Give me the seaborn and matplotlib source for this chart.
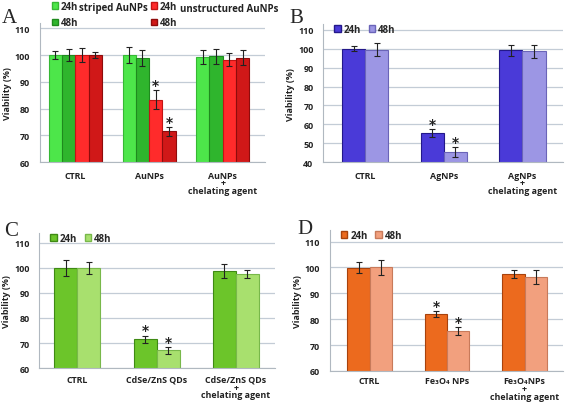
import numpy as np
import pandas as pd
import matplotlib
matplotlib.use("Agg")
import matplotlib.pyplot as plt
import seaborn as sns
from matplotlib.patches import Patch

# ---- data ----
cats_a = ["CTRL", "AuNPs", "AuNPs\n+\nchelating agent"]
a_striped_24 = [100, 100, 99.3]
a_striped_24_err = [1.6, 3.0, 2.5]
a_striped_48 = [100, 99, 99.5]
a_striped_48_err = [2.3, 3.0, 2.8]
a_unstr_24 = [100, 83.3, 98.3]
a_unstr_24_err = [2.7, 3.5, 2.5]
a_unstr_48 = [100, 71.5, 99]
a_unstr_48_err = [1.2, 1.6, 2.8]
a_stars = [[0, 0, 0], [0, 0, 0], [0, 1, 0], [0, 1, 0]]

cats_b = ["CTRL", "AgNPs", "AgNPs\n+\nchelating agent"]
b_24 = [100, 55.3, 99.2]
b_24_err = [1.2, 2.0, 2.9]
b_48 = [99.6, 45.3, 98.6]
b_48_err = [3.2, 2.6, 3.3]
b_stars = [[0, 1, 0], [0, 1, 0]]

cats_c = ["CTRL", "CdSe/ZnS QDs", "CdSe/ZnS QDs\n+\nchelating agent"]
c_24 = [100, 71.5, 98.8]
c_24_err = [3.1, 1.5, 2.7]
c_48 = [99.8, 67.1, 97.5]
c_48_err = [2.4, 1.3, 1.5]
c_stars = [[0, 1, 0], [0, 1, 0]]

cats_d = ["CTRL", "Fe₃O₄ NPs", "Fe₃O₄NPs\n+\nchelating agent"]
d_24 = [99.9, 82, 97.6]
d_24_err = [2.2, 1.2, 1.6]
d_48 = [100, 75.4, 96.4]
d_48_err = [3.0, 1.5, 2.7]
d_stars = [[0, 1, 0], [0, 1, 0]]

FONT = ["Open Sans", "DejaVu Sans"]
FS = 6.4
TXT = dict(fontsize=FS, fontweight="bold", color="#222222")
GRID = "#c3ccd6"


def draw_panel(ax, cats, series, errs, stars, colors, edges, ylim, yticks, xlim, width, xpad):
    names = [f"s{i}" for i in range(len(series))]
    rows = []
    for n, vals in zip(names, series):
        for c, v in zip(cats, vals):
            rows.append({"group": c, "series": n, "viability": v})
    df = pd.DataFrame(rows)
    sns.barplot(data=df, x="group", y="viability", hue="series", hue_order=names,
                order=cats, palette=colors, width=width, ax=ax, legend=False,
                errorbar=None, saturation=1, zorder=2)
    # error bars and significance stars on each bar
    for cont, err, star, ec in zip(ax.containers, errs, stars, edges):
        for bar, e, s in zip(cont, err, star):
            bar.set_edgecolor(ec)
            bar.set_linewidth(0.8)
            xc = bar.get_x() + bar.get_width() / 2
            h = bar.get_height()
            ax.errorbar(xc, h, yerr=e, color="#222222", capsize=2, lw=0.8,
                        capthick=0.8, zorder=3)
            if s:
                ax.text(xc, h + e - 0.6 * (ylim[1] - ylim[0]) / 50, "*",
                        ha="center", va="bottom", fontsize=10, fontweight="bold",
                        color="#222222", zorder=4, family="DejaVu Sans")
    ax.set_ylim(*ylim)
    ax.set_xlim(*xlim)
    ax.set_yticks(yticks)
    ax.yaxis.grid(True, color=GRID, lw=0.9, zorder=0)
    ax.xaxis.grid(False)
    ax.set_axisbelow(True)
    for sp in ["top", "right"]:
        ax.spines[sp].set_visible(False)
    ax.spines["left"].set_color("#b0b8c0")
    ax.spines["bottom"].set_color("#b0b8c0")
    ax.tick_params(axis="y", length=5, width=0.9, color=GRID, pad=2)
    ax.tick_params(axis="x", length=0, pad=xpad)
    ax.set_xlabel("")
    ax.set_ylabel("Viability (%)", labelpad=2, **TXT)
    for lab in ax.get_xticklabels() + ax.get_yticklabels():
        lab.set_fontsize(FS)
        lab.set_fontweight("bold")
        lab.set_color("#222222")
        lab.set_linespacing(0.8)


sns.set_style("white")
plt.rcParams["font.family"] = FONT
fig = plt.figure(figsize=(5.69, 4.06), dpi=100)

ax_a = fig.add_axes([0.0703, 0.598, 0.395, 0.343])
ax_b = fig.add_axes([0.568, 0.598, 0.422, 0.34])
ax_c = fig.add_axes([0.069, 0.091, 0.415, 0.333])
ax_d = fig.add_axes([0.58, 0.084, 0.41, 0.347])

a_cols = ["#4de64a", "#2fb52d", "#ff2b2b", "#d01818"]
a_edges = ["#36b834", "#1f8a1e", "#c41414", "#8e0c0c"]
draw_panel(ax_a, cats_a,
           [a_striped_24, a_striped_48, a_unstr_24, a_unstr_48],
           [a_striped_24_err, a_striped_48_err, a_unstr_24_err, a_unstr_48_err],
           a_stars, a_cols, a_edges, (60, 112), [60, 70, 80, 90, 100, 110],
           (-0.48, 2.57), 0.72, 6)

b_cols = ["#4a3ad8", "#9c96e4"]
b_edges = ["#23188a", "#6a64b8"]
draw_panel(ax_b, cats_b, [b_24, b_48], [b_24_err, b_48_err], b_stars,
           b_cols, b_edges, (40, 113), [40, 50, 60, 70, 80, 90, 100, 110],
           (-0.535, 2.52), 0.59, 6)

c_cols = ["#6cc52a", "#a8e06e"]
c_edges = ["#3f8a14", "#78b84a"]
draw_panel(ax_c, cats_c, [c_24, c_48], [c_24_err, c_48_err], c_stars,
           c_cols, c_edges, (60, 114), [60, 70, 80, 90, 100, 110],
           (-0.48, 2.5), 0.58, 5)

d_cols = ["#ec6a1e", "#f2a07e"]
d_edges = ["#a8420c", "#c87a5a"]
draw_panel(ax_d, cats_d, [d_24, d_48], [d_24_err, d_48_err], d_stars,
           d_cols, d_edges, (60, 114.5), [60, 70, 80, 90, 100, 110],
           (-0.51, 2.5), 0.57, 4)

# legends
leg_kw = dict(frameon=False, handlelength=0.65, handleheight=0.65, handletextpad=0.3,
              prop={"family": FONT, "size": FS + 0.6, "weight": "bold"},
              borderaxespad=0, labelspacing=0.55)
l1 = ax_a.legend(handles=[Patch(facecolor=a_cols[0], edgecolor=a_edges[0]),
                          Patch(facecolor=a_cols[1], edgecolor=a_edges[1])],
                 labels=["24h", "48h"], loc="upper left",
                 bbox_to_anchor=(0.035, 1.185), **leg_kw)
ax_a.add_artist(l1)
ax_a.legend(handles=[Patch(facecolor=a_cols[2], edgecolor=a_edges[2]),
                     Patch(facecolor=a_cols[3], edgecolor=a_edges[3])],
            labels=["24h", "48h"], loc="upper left",
            bbox_to_anchor=(0.475, 1.185), **leg_kw)
ax_a.text(0.175, 1.11, "striped AuNPs", transform=ax_a.transAxes, va="center",
          fontsize=FS + 0.6, fontweight="bold", color="#222222")
ax_a.text(0.625, 1.105, "unstructured AuNPs", transform=ax_a.transAxes, va="center",
          fontsize=FS + 0.6, fontweight="bold", color="#222222")

for ax, cols, edges in [(ax_b, b_cols, b_edges), (ax_c, c_cols, c_edges),
                        (ax_d, d_cols, d_edges)]:
    ax.legend(handles=[Patch(facecolor=cols[0], edgecolor=edges[0]),
                       Patch(facecolor=cols[1], edgecolor=edges[1])],
              labels=["24h", "48h"], loc="upper left", ncol=2, columnspacing=0.8,
              bbox_to_anchor=(0.03, 1.03), **leg_kw)

# panel letters
for x, y, s in [(0.003, 0.955, "A"), (0.508, 0.955, "B"), (0.008, 0.43, "C"), (0.522, 0.435, "D")]:
    fig.text(x, y, s, fontsize=15, family="Liberation Serif", va="center")

fig.savefig("out.png", dpi=100)
